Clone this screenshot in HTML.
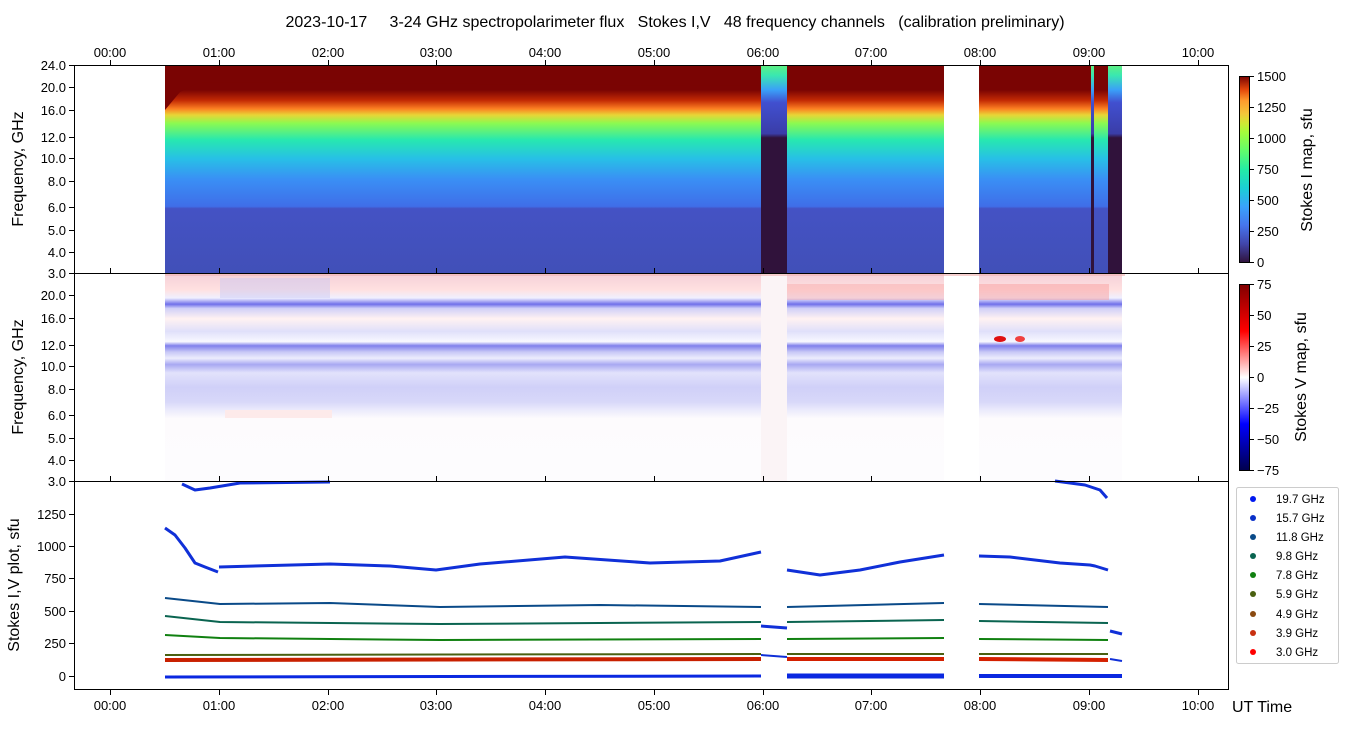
<!DOCTYPE html>
<html><head><meta charset="utf-8"><style>
body{margin:0;background:#fff;width:1350px;height:725px;overflow:hidden}
text{font-family:"Liberation Sans","DejaVu Sans",sans-serif;fill:#000}
</style></head><body>
<svg width="1350" height="725" viewBox="0 0 1350 725" xmlns="http://www.w3.org/2000/svg">
<defs>
<linearGradient id="gI" x1="0" y1="1" x2="0" y2="0">
<stop offset="0" stop-color="#4150b8"/>
<stop offset="0.31" stop-color="#4452c4"/>
<stop offset="0.32" stop-color="#3f6ee8"/>
<stop offset="0.45" stop-color="#3a8ff5"/>
<stop offset="0.55" stop-color="#27c0e6"/>
<stop offset="0.64" stop-color="#27e8b0"/>
<stop offset="0.72" stop-color="#8cfa50"/>
<stop offset="0.76" stop-color="#e8d436"/>
<stop offset="0.79" stop-color="#fb7f22"/>
<stop offset="0.83" stop-color="#c32a04"/>
<stop offset="0.88" stop-color="#7a0403"/>
<stop offset="1" stop-color="#7a0403"/>
</linearGradient>
<linearGradient id="gD" x1="0" y1="1" x2="0" y2="0">
<stop offset="0" stop-color="#30123b"/>
<stop offset="0.65" stop-color="#30123b"/>
<stop offset="0.67" stop-color="#3a3da8"/>
<stop offset="0.82" stop-color="#4150d0"/>
<stop offset="0.88" stop-color="#3aa0f8"/>
<stop offset="0.95" stop-color="#3ae8b0"/>
<stop offset="1" stop-color="#60f080"/>
</linearGradient>
<linearGradient id="cbI" x1="0" y1="1" x2="0" y2="0">
<stop offset="0" stop-color="#30123b"/><stop offset="0.1" stop-color="#4145ab"/>
<stop offset="0.2" stop-color="#4675ed"/><stop offset="0.3" stop-color="#39a2fc"/>
<stop offset="0.4" stop-color="#1bcfd4"/><stop offset="0.5" stop-color="#24eca6"/>
<stop offset="0.6" stop-color="#61fc6c"/><stop offset="0.7" stop-color="#a4fc3b"/>
<stop offset="0.75" stop-color="#d1e834"/><stop offset="0.8" stop-color="#f3c63a"/>
<stop offset="0.87" stop-color="#fe9b2d"/><stop offset="0.93" stop-color="#e4460a"/>
<stop offset="1" stop-color="#7a0403"/>
</linearGradient>
<linearGradient id="cbV" x1="0" y1="1" x2="0" y2="0">
<stop offset="0" stop-color="#00004c"/><stop offset="0.25" stop-color="#0000ff"/>
<stop offset="0.5" stop-color="#ffffff"/><stop offset="0.75" stop-color="#ff0000"/>
<stop offset="1" stop-color="#800000"/>
</linearGradient>
<linearGradient id="gV" x1="0" y1="0" x2="0" y2="1">
<stop offset="0" stop-color="#f4d0d8"/>
<stop offset="0.08" stop-color="#ffe0e0"/>
<stop offset="0.12" stop-color="#f0f0ff"/>
<stop offset="0.15" stop-color="#7070ea"/>
<stop offset="0.17" stop-color="#d0d0f8"/>
<stop offset="0.22" stop-color="#fff2f2"/>
<stop offset="0.28" stop-color="#e0e0fa"/>
<stop offset="0.33" stop-color="#f8f8ff"/>
<stop offset="0.35" stop-color="#8080ec"/>
<stop offset="0.38" stop-color="#c8c8f6"/>
<stop offset="0.41" stop-color="#ececfd"/>
<stop offset="0.44" stop-color="#a8a8f2"/>
<stop offset="0.48" stop-color="#e2e2fb"/>
<stop offset="0.55" stop-color="#d0d0f8"/>
<stop offset="0.62" stop-color="#d8d8f9"/>
<stop offset="0.66" stop-color="#ecebfc"/>
<stop offset="0.7" stop-color="#fdfbfd"/>
<stop offset="1" stop-color="#fdfcfe"/>
</linearGradient>
</defs>

<text x="675" y="27" font-size="16" text-anchor="middle" xml:space="preserve" style="white-space:pre">2023-10-17     3-24 GHz spectropolarimeter flux   Stokes I,V   48 frequency channels   (calibration preliminary)</text>

<!-- top panel -->
<rect x="165" y="65" width="596" height="208" fill="url(#gI)"/>
<rect x="787" y="65" width="157" height="208" fill="url(#gI)"/>
<rect x="979" y="65" width="112" height="208" fill="url(#gI)"/>
<rect x="1094" y="65" width="14" height="208" fill="url(#gI)"/>
<path d="M165 65 L165 110 L180 92 L200 82 L761 86 L761 65Z" fill="#7a0403"/>
<rect x="761" y="65" width="26" height="208" fill="url(#gD)"/>
<rect x="1091" y="65" width="3" height="208" fill="url(#gD)"/>
<rect x="1108" y="65" width="14" height="208" fill="url(#gD)"/>

<!-- middle panel -->
<rect x="165" y="273" width="596" height="208" fill="url(#gV)"/>
<rect x="787" y="273" width="157" height="208" fill="url(#gV)"/>
<rect x="979" y="273" width="143" height="208" fill="url(#gV)"/>
<rect x="761" y="273" width="26" height="208" fill="#fbf4f6"/>
<rect x="787" y="284" width="157" height="16" fill="#f8a8a8" opacity="0.45"/>
<rect x="979" y="284" width="130" height="16" fill="#f8a0a0" opacity="0.5"/>
<rect x="220" y="278" width="110" height="20" fill="#c8c8f4" opacity="0.45"/>
<rect x="225" y="410" width="107" height="8" fill="#fdeaea"/>
<ellipse cx="1000" cy="339" rx="6" ry="3" fill="#e01010"/>
<ellipse cx="1020" cy="339" rx="5" ry="3" fill="#f04040"/>
<rect x="165" y="273" width="960" height="3" fill="#f0b0b0" opacity="0.6"/>

<!-- bottom panel lines -->
<g fill="none" stroke-linejoin="round">
<polyline stroke="#1030d8" stroke-width="3" points="165,528 175,535 185,548 195,563 205,567 218,572"/>
<polyline stroke="#1030d8" stroke-width="3" points="219,567 330,564 390,566 436,570 480,564 565,557 650,563 720,561 761,552"/>
<polyline stroke="#1030d8" stroke-width="3" points="787,570 820,575 860,570 900,562 944,555"/>
<polyline stroke="#1030d8" stroke-width="3" points="979,556 1010,557 1060,563 1090,565 1095,566 1108,570"/>
<polyline stroke="#1030d8" stroke-width="3" points="761,626 787,628"/>
<polyline stroke="#1030d8" stroke-width="3" points="1110,631 1122,634"/>
<polyline stroke="#1030d8" stroke-width="2" points="761,655 787,657"/>
<polyline stroke="#1030d8" stroke-width="2" points="1110,659 1122,661"/>
<polyline stroke="#1030d8" stroke-width="3" points="182,484 195,490 210,488 240,483 330,482"/>
<polyline stroke="#1030d8" stroke-width="3" points="1055,481 1085,485 1100,490 1107,498"/>
<polyline stroke="#0a4a88" stroke-width="2" points="165,598 220,604 330,603 440,607 600,605 761,607"/>
<polyline stroke="#0a4a88" stroke-width="2" points="787,607 944,603"/><polyline stroke="#0a4a88" stroke-width="2" points="979,604 1108,607"/>
<polyline stroke="#0a6450" stroke-width="2" points="165,616 220,622 440,624 761,622"/>
<polyline stroke="#0a6450" stroke-width="2" points="787,622 944,620"/><polyline stroke="#0a6450" stroke-width="2" points="979,621 1108,623"/>
<polyline stroke="#108010" stroke-width="2" points="165,635 220,638 440,640 761,639"/>
<polyline stroke="#108010" stroke-width="2" points="787,639 944,638"/><polyline stroke="#108010" stroke-width="2" points="979,639 1108,640"/>
<polyline stroke="#4a6010" stroke-width="2" points="165,655 761,654"/><polyline stroke="#4a6010" stroke-width="2" points="787,654 944,654"/><polyline stroke="#4a6010" stroke-width="2" points="979,654 1108,654"/>
<polyline stroke="#c82000" stroke-width="4" points="165,660 761,659"/><polyline stroke="#d42000" stroke-width="4" points="787,659 944,659"/><polyline stroke="#d42000" stroke-width="4" points="979,659 1108,660"/>
<polyline stroke="#0a28e0" stroke-width="3" points="165,677 761,676"/><polyline stroke="#0a28e0" stroke-width="5" points="787,676 944,676"/><polyline stroke="#0a28e0" stroke-width="4" points="979,676 1122,676"/>
</g>

<!-- axes frames -->
<g fill="none" stroke="#000" stroke-width="1">
<rect x="74.5" y="65.5" width="1154" height="624"/>
<line x1="74" y1="273.5" x2="1229" y2="273.5"/>
<line x1="74" y1="481.5" x2="1229" y2="481.5"/>
</g>
<!-- time ticks -->
<g stroke="#000" stroke-width="1">
<path d="M110.5 65v-5M219.5 65v-5M328.5 65v-5M436.5 65v-5M545.5 65v-5M654.5 65v-5M763.5 65v-5M871.5 65v-5M980.5 65v-5M1089.5 65v-5M1198.5 65v-5"/>
<path d="M110.5 690v5M219.5 690v5M328.5 690v5M436.5 690v5M545.5 690v5M654.5 690v5M763.5 690v5M871.5 690v5M980.5 690v5M1089.5 690v5M1198.5 690v5"/>
<path d="M110.5 273v-5M219.5 273v-5M328.5 273v-5M436.5 273v-5M545.5 273v-5M654.5 273v-5M763.5 273v-5M871.5 273v-5M980.5 273v-5M1089.5 273v-5M1198.5 273v-5"/>
<path d="M110.5 481v-5M219.5 481v-5M328.5 481v-5M436.5 481v-5M545.5 481v-5M654.5 481v-5M763.5 481v-5M871.5 481v-5M980.5 481v-5M1089.5 481v-5M1198.5 481v-5"/>
<path d="M69 65.5h5M69 87.5h5M69 110.5h5M69 137.5h5M69 158.5h5M69 181.5h5M69 207.5h5M69 230.5h5M69 252.5h5M69 273.5h5"/>
<path d="M69 295.5h5M69 318.5h5M69 345.5h5M69 366.5h5M69 389.5h5M69 415.5h5M69 438.5h5M69 460.5h5M69 481.5h5"/>
<path d="M69 676.5h5M69 643.5h5M69 611.5h5M69 578.5h5M69 546.5h5M69 514.5h5"/>
</g>
<g font-size="13" text-anchor="middle">
<text x="110" y="57">00:00</text><text x="219" y="57">01:00</text><text x="328" y="57">02:00</text><text x="436" y="57">03:00</text><text x="545" y="57">04:00</text><text x="654" y="57">05:00</text><text x="763" y="57">06:00</text><text x="871" y="57">07:00</text><text x="980" y="57">08:00</text><text x="1089" y="57">09:00</text><text x="1198" y="57">10:00</text>
<text x="110" y="710">00:00</text><text x="219" y="710">01:00</text><text x="328" y="710">02:00</text><text x="436" y="710">03:00</text><text x="545" y="710">04:00</text><text x="654" y="710">05:00</text><text x="763" y="710">06:00</text><text x="871" y="710">07:00</text><text x="980" y="710">08:00</text><text x="1089" y="710">09:00</text><text x="1198" y="710">10:00</text>
</g>
<g font-size="13" text-anchor="end">
<text x="66" y="70">24.0</text><text x="66" y="92">20.0</text><text x="66" y="115">16.0</text><text x="66" y="142">12.0</text><text x="66" y="163">10.0</text><text x="66" y="186">8.0</text><text x="66" y="212">6.0</text><text x="66" y="235">5.0</text><text x="66" y="257">4.0</text><text x="66" y="278">3.0</text>
<text x="66" y="300">20.0</text><text x="66" y="323">16.0</text><text x="66" y="350">12.0</text><text x="66" y="371">10.0</text><text x="66" y="394">8.0</text><text x="66" y="420">6.0</text><text x="66" y="443">5.0</text><text x="66" y="465">4.0</text><text x="66" y="486">3.0</text>
<text x="66" y="681">0</text><text x="66" y="648">250</text><text x="66" y="616">500</text><text x="66" y="583">750</text><text x="66" y="551">1000</text><text x="66" y="519">1250</text>
</g>
<g font-size="16" text-anchor="middle">
<text transform="translate(23 169) rotate(-90)">Frequency, GHz</text>
<text transform="translate(23 377) rotate(-90)">Frequency, GHz</text>
<text transform="translate(19 585) rotate(-90)">Stokes I,V plot, sfu</text>
<text transform="translate(1312 170) rotate(-90)">Stokes I map, sfu</text>
<text transform="translate(1306 377) rotate(-90)">Stokes V map, sfu</text>
</g>
<text x="1232" y="712" font-size="16">UT Time</text>

<!-- colorbars -->
<rect x="1239.5" y="76.5" width="10" height="186" fill="url(#cbI)" stroke="#000"/>
<rect x="1239.5" y="284.5" width="10" height="186" fill="url(#cbV)" stroke="#000"/>
<g stroke="#000"><path d="M1250 76.5h4M1250 107.5h4M1250 138.5h4M1250 169.5h4M1250 200.5h4M1250 231.5h4M1250 262.5h4"/>
<path d="M1250 284.5h4M1250 315.5h4M1250 346.5h4M1250 377.5h4M1250 408.5h4M1250 439.5h4M1250 470.5h4"/></g>
<g font-size="13">
<text x="1257" y="81">1500</text><text x="1257" y="112">1250</text><text x="1257" y="143">1000</text><text x="1257" y="174">750</text><text x="1257" y="205">500</text><text x="1257" y="236">250</text><text x="1257" y="267">0</text>
<text x="1257" y="289">75</text><text x="1257" y="320">50</text><text x="1257" y="351">25</text><text x="1257" y="382">0</text><text x="1257" y="413">−25</text><text x="1257" y="444">−50</text><text x="1257" y="475">−75</text>
</g>

<!-- legend -->
<rect x="1236.5" y="487.5" width="102" height="176" rx="2" fill="#fff" stroke="#ccc"/>
<g font-size="11.5">
<circle cx="1253" cy="499" r="3" fill="#0018f0"/><text x="1276" y="503">19.7 GHz</text>
<circle cx="1253" cy="518" r="3" fill="#0a30c8"/><text x="1276" y="522">15.7 GHz</text>
<circle cx="1253" cy="537" r="3" fill="#0a4a88"/><text x="1276" y="541">11.8 GHz</text>
<circle cx="1253" cy="556" r="3" fill="#0a6450"/><text x="1276" y="560">9.8 GHz</text>
<circle cx="1253" cy="575" r="3" fill="#108010"/><text x="1276" y="579">7.8 GHz</text>
<circle cx="1253" cy="594" r="3" fill="#4a6010"/><text x="1276" y="598">5.9 GHz</text>
<circle cx="1253" cy="614" r="3" fill="#8a4a10"/><text x="1276" y="618">4.9 GHz</text>
<circle cx="1253" cy="633" r="3" fill="#c83010"/><text x="1276" y="637">3.9 GHz</text>
<circle cx="1253" cy="652" r="3" fill="#ff0000"/><text x="1276" y="656">3.0 GHz</text>
</g>
</svg>
</body></html>
